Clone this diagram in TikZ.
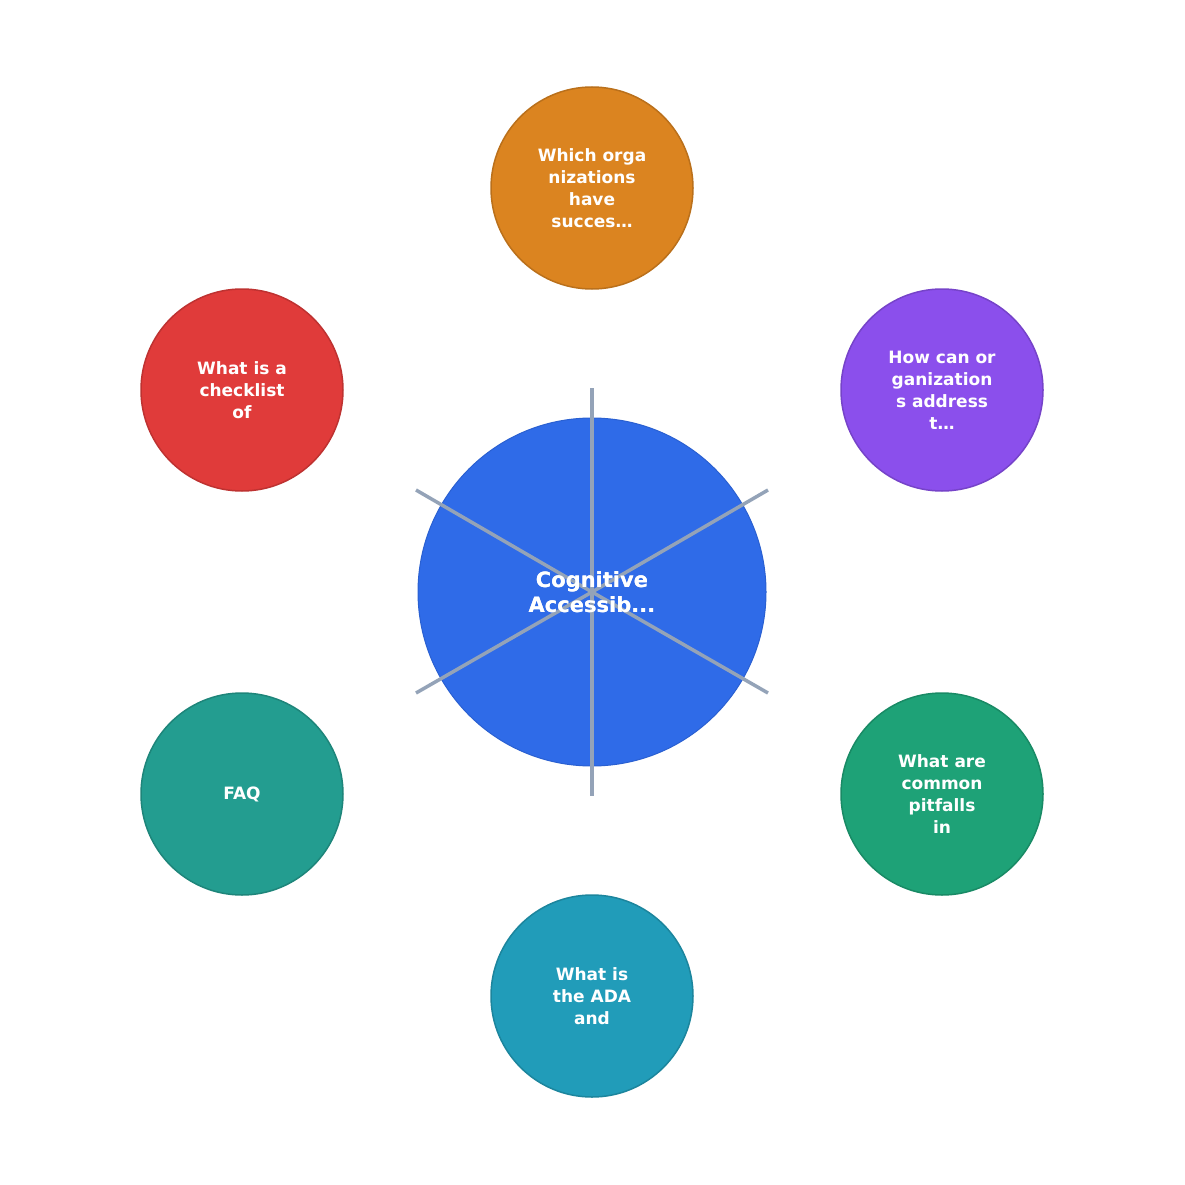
\documentclass[tikz,border=0pt]{standalone}
\usepackage{fontspec}
\setmainfont{DejaVu Sans}
\definecolor{hub_blue}{HTML}{2F6BE8}
\definecolor{hub_line}{HTML}{94A3B8}
\definecolor{q_orange}{HTML}{DB8420}
\definecolor{q_purple}{HTML}{8B4FEC}
\definecolor{q_green}{HTML}{1EA277}
\definecolor{q_cyan}{HTML}{219CB9}
\definecolor{q_teal}{HTML}{239D90}
\definecolor{q_red}{HTML}{E03B3A}
\tikzset{hub/.style={circle,fill=hub_blue,draw=hub_blue!90!black,line width=1pt,
    minimum size=348pt,inner sep=0pt,text=white,align=center,
    font=\bfseries\fontsize{21}{25}\selectfont},
  qn/.style={circle,fill=#1,draw=#1!85!black,line width=1.5pt,
    minimum size=202pt,inner sep=0pt,text=white,align=center,
    font=\bfseries\fontsize{17}{22}\selectfont},
  spoke/.style={draw=hub_line,line width=3.5pt}}

\begin{document}
\begin{tikzpicture}[x=1pt,y=-1pt]
  \useasboundingbox (0,0) rectangle (1185,1185);
  \node [qn=q_orange] (0) at (592,188) {Which orga\\nizations\\have\\succes…};
  \node [qn=q_purple] (1) at (942,390) {How can or\\ganization\\s address\\t…};
  \node [qn=q_green] (2) at (942,794) {What are\\common\\pitfalls\\in};
  \node [qn=q_cyan] (3) at (592,996) {What is\\the ADA\\and};
  \node [qn=q_teal] (4) at (242,794) {FAQ};
  \node [qn=q_red] (5) at (242,390) {What is a\\checklist\\of};
  \node [hub] (c) at (592,592) {Cognitive\\Accessib...};
  \coordinate (e0) at (592,388);
  \coordinate (e1) at (768,490);
  \coordinate (e2) at (768,693);
  \coordinate (e3) at (592,796);
  \coordinate (e4) at (416,693);
  \coordinate (e5) at (416,490);
  \foreach \i in {0,...,5}
    \draw [spoke] (c.center) -- (e\i);
  \node [text=white,align=center,font=\bfseries\fontsize{21}{25}\selectfont]
    (cl) at (c) {Cognitive\\Accessib...};
\end{tikzpicture}
\end{document}
